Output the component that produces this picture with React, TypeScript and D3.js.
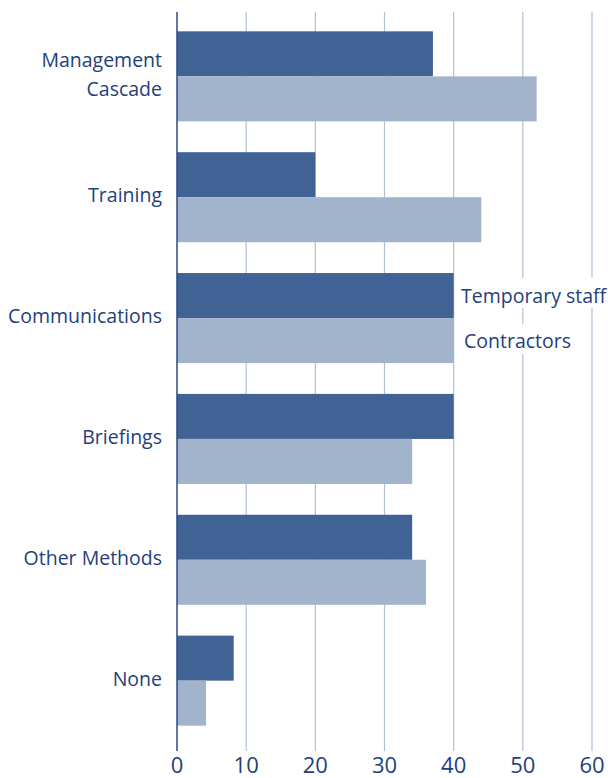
import React from "react";
import * as d3 from "d3";

const categories = ["Management Cascade", "Training", "Communications", "Briefings", "Other Methods", "None"];
const temporaryStaff = [37, 20, 40, 40, 34, 8.2];
const contractors = [52, 44, 40, 34, 36, 4.2];
const ticks = [0, 10, 20, 30, 40, 50, 60];

const W = 608;
const H = 778;
const darkBar = "#416295";
const lightBar = "#a2b3cc";
const textCol = "#233f7c";
const gridCol = "#b0bfd9";
const font = "'Open Sans', sans-serif";

const labelLines: Record<string, string[]> = {
  "Management Cascade": ["Management", "Cascade"],
};

export default function App() {
  const x = d3.scaleLinear().domain([0, 60]).range([177, 592]);
  const y = d3
    .scaleBand()
    .domain(categories)
    .range([12, 745])
    .paddingInner(0.255)
    .paddingOuter(0.16);
  const sub = d3
    .scaleBand()
    .domain(["temp", "contr"])
    .range([0, y.bandwidth()]);

  const commY = y("Communications")!;

  return (
    <svg
      width={W}
      height={H}
      style={{ position: "absolute", top: 0, left: 0, background: "#fff" }}
      fontFamily={font}
    >
      {ticks.map((t) => (
        <g key={t}>
          {t > 0 && (
            <line x1={x(t)} x2={x(t)} y1={12} y2={751} stroke={gridCol} strokeWidth={1.2} />
          )}
          <text x={x(t)} y={773} textAnchor="middle" fontSize={22} fill={textCol}>
            {t}
          </text>
        </g>
      ))}

      {categories.map((c, i) => {
        const y0 = y(c)!;
        const center = y0 + y.bandwidth() / 2;
        const lines = labelLines[c] || [c];
        return (
          <g key={c}>
            <rect
              x={x(0)}
              y={y0 + sub("temp")!}
              width={x(temporaryStaff[i]) - x(0)}
              height={sub.bandwidth()}
              fill={darkBar}
            />
            <rect
              x={x(0)}
              y={y0 + sub("contr")!}
              width={x(contractors[i]) - x(0)}
              height={sub.bandwidth()}
              fill={lightBar}
            />
            {lines.map((l, j) => (
              <text
                key={l}
                x={162}
                y={center + 5 + (j - (lines.length - 1) / 2) * 29}
                textAnchor="end"
                fontSize={19.5}
                fill={textCol}
              >
                {l}
              </text>
            ))}
          </g>
        );
      })}

      {/* legend sits right of the Communications bars */}
      <rect x={458} y={commY + 5} width={148} height={30} fill="#fff" />
      <text x={461} y={commY + sub("temp")! + sub.bandwidth() / 2 + 7} fontSize={19.5} fill={textCol}>
        Temporary staff
      </text>
      <rect x={461} y={commY + sub("contr")! + 6} width={110} height={30} fill="#fff" />
      <text x={464} y={commY + sub("contr")! + sub.bandwidth() / 2 + 7} fontSize={19.5} fill={textCol}>
        Contractors
      </text>

      <line x1={x(0)} x2={x(0)} y1={12} y2={751} stroke="#2b4a84" strokeWidth={1.5} />
    </svg>
  );
}
